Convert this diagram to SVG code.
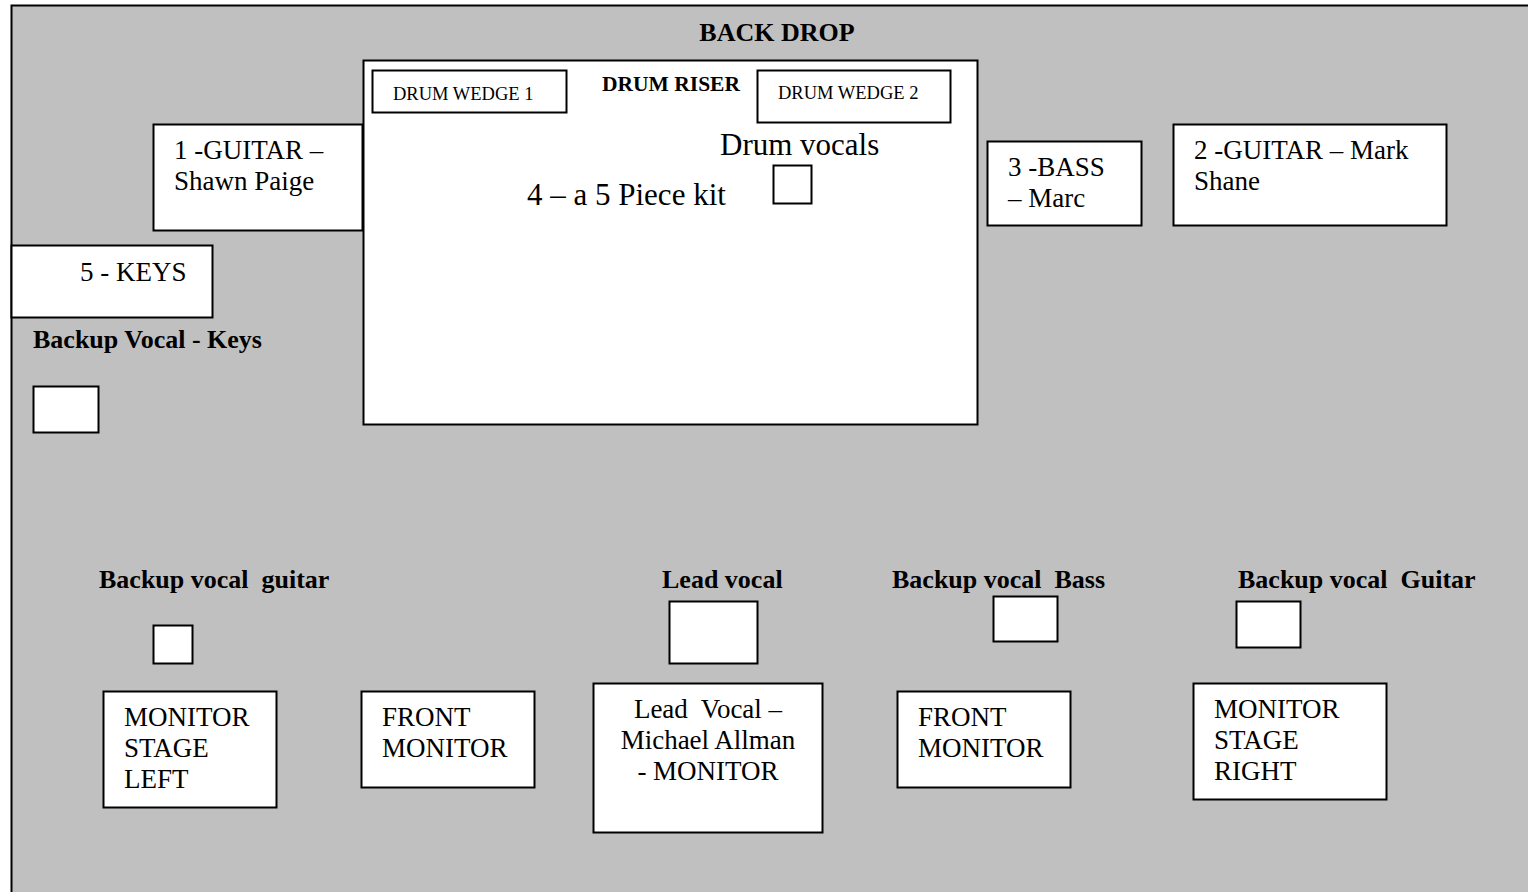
<svg xmlns="http://www.w3.org/2000/svg" width="1528" height="892" viewBox="0 0 1528 892" xml:space="preserve">
<style>
.box{fill:#fff;stroke:#000;stroke-width:2}
text{font-family:"Liberation Serif","Times New Roman",Times,serif;fill:#000;white-space:pre}
.t{font-size:27px}
.b{font-size:26px;font-weight:bold}
.s{font-size:18.5px}
.big{font-size:31px}
</style>
<rect width="1528" height="892" fill="#fff"/>
<rect x="11.5" y="5.5" width="1530" height="900" fill="#c0c0c0" stroke="#000" stroke-width="2"/>
<text class="b" x="777" y="41" text-anchor="middle">BACK DROP</text>
<g id="drum-riser">
<rect class="box" x="363.5" y="60.5" width="614" height="364"/>
<text x="602" y="91" style="font-size:21.5px;font-weight:bold">DRUM RISER</text>
<text class="big" x="720" y="155">Drum vocals</text>
<text class="big" x="527" y="205">4 – a 5 Piece kit</text>
</g>
<g id="drum-wedge-1"><rect class="box" x="372.5" y="70.5" width="194" height="42"/><text class="s" x="393" y="100">DRUM WEDGE 1</text></g>
<g id="drum-wedge-2"><rect class="box" x="757.5" y="70.5" width="193" height="52"/><text class="s" x="778" y="99">DRUM WEDGE 2</text></g>
<g id="drum-vocal-mic"><rect class="box" x="773.5" y="165.5" width="38" height="38"/></g>
<g id="guitar-1"><rect class="box" x="153.5" y="124.5" width="209" height="106"/><text class="t" x="174" y="159">1 -GUITAR –</text><text class="t" x="174" y="190">Shawn Paige</text></g>
<g id="keys"><rect class="box" x="11.5" y="245.5" width="201" height="72"/><text class="t" x="80" y="281">5 - KEYS</text></g>
<g id="backup-vocal-keys"><text class="b" x="33" y="348">Backup Vocal - Keys</text><rect class="box" x="33.5" y="386.5" width="65" height="46"/></g>
<g id="bass"><rect class="box" x="987.5" y="141.5" width="154" height="84"/><text class="t" x="1008" y="176">3 -BASS</text><text class="t" x="1008" y="207">– Marc</text></g>
<g id="guitar-2"><rect class="box" x="1173.5" y="124.5" width="273" height="101"/><text class="t" x="1194" y="159">2 -GUITAR – Mark</text><text class="t" x="1194" y="190">Shane</text></g>
<g id="backup-vocal-guitar-left"><text class="b" x="99" y="588">Backup vocal  guitar</text><rect class="box" x="153.5" y="625.5" width="39" height="38"/></g>
<g id="monitor-stage-left"><rect class="box" x="103.5" y="691.5" width="173" height="116"/><text class="t" x="124" y="726">MONITOR</text><text class="t" x="124" y="757">STAGE</text><text class="t" x="124" y="788">LEFT</text></g>
<g id="front-monitor-1"><rect class="box" x="361.5" y="691.5" width="173" height="96"/><text class="t" x="382" y="726">FRONT</text><text class="t" x="382" y="757">MONITOR</text></g>
<g id="lead-vocal-mic"><text class="b" x="662" y="588">Lead vocal</text><rect class="box" x="669.5" y="601.5" width="88" height="62"/></g>
<g id="lead-vocal-monitor"><rect class="box" x="593.5" y="683.5" width="229" height="149"/><text class="t" x="708" y="718" text-anchor="middle">Lead  Vocal –</text><text class="t" x="708" y="749" text-anchor="middle">Michael Allman</text><text class="t" x="708" y="780" text-anchor="middle">- MONITOR</text></g>
<g id="backup-vocal-bass"><text class="b" x="892" y="588">Backup vocal  Bass</text><rect class="box" x="993.5" y="596.5" width="64" height="45"/></g>
<g id="front-monitor-2"><rect class="box" x="897.5" y="691.5" width="173" height="96"/><text class="t" x="918" y="726">FRONT</text><text class="t" x="918" y="757">MONITOR</text></g>
<g id="backup-vocal-guitar-right"><text class="b" x="1238" y="588">Backup vocal  Guitar</text><rect class="box" x="1236.5" y="601.5" width="64" height="46"/></g>
<g id="monitor-stage-right"><rect class="box" x="1193.5" y="683.5" width="193" height="116"/><text class="t" x="1214" y="718">MONITOR</text><text class="t" x="1214" y="749">STAGE</text><text class="t" x="1214" y="780">RIGHT</text></g>
<g id="connectors"/>
</svg>
